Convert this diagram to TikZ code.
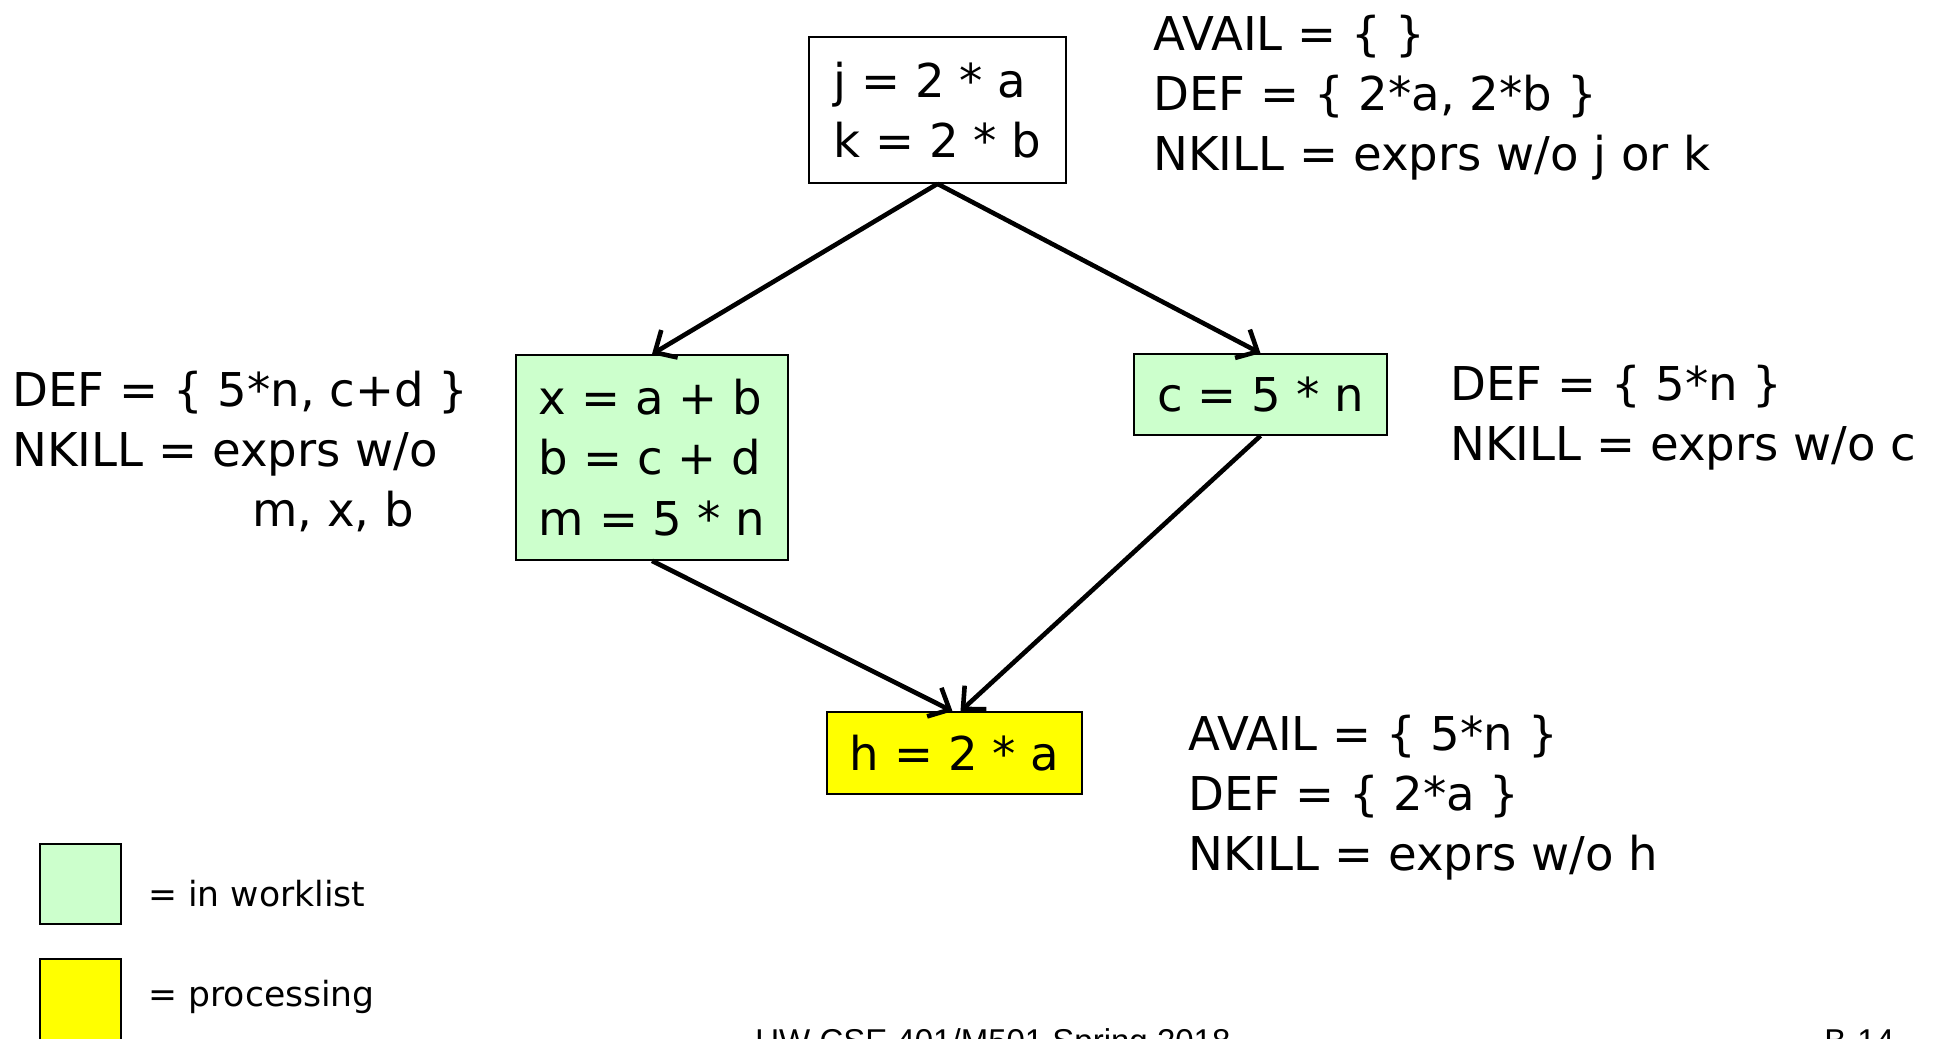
\documentclass[tikz,border=0pt]{standalone}
\usepackage{fontspec}
\setmainfont{DejaVu Sans}
\newfontfamily\footfont{Liberation Sans}
\usetikzlibrary{arrows.meta}
\definecolor{wlgreen}{HTML}{CCFFCC}
\definecolor{procyellow}{HTML}{FFFF00}
\begin{document}
\begin{tikzpicture}[x=0.5pt,y=-0.5pt,
  big/.style={font=\fontsize{23.3}{30.2}\selectfont},
  blockbox/.style={draw=black,line width=0.8pt,big,align=left,inner sep=0pt},
  info/.style={anchor=base west,inner sep=0pt,big},
  legendbox/.style={draw=black,line width=0.8pt,inner sep=0pt,minimum width=40.5pt},
  legendtext/.style={anchor=base west,inner sep=0pt,font=\fontsize{17.3}{21}\selectfont},
  foot/.style={anchor=base west,inner sep=0pt,font=\footfont\fontsize{16.5}{20}\selectfont},
  flow/.style={line width=2.3pt,-{Straight Barb[length=8.5pt,width=16pt,line width=2.3pt]}}]
\clip (0,0) rectangle (1940,1039);
\fill[white] (0,0) rectangle (1940,1039);
% blocks
\node[blockbox,fill=white,minimum width=128.5pt,minimum height=73pt] (b1) at (937.5,110) {j = 2 * a\\k = 2 * b};
\node[blockbox,fill=wlgreen,minimum width=136pt,minimum height=102.5pt] (b2) at (652,457.5) {x = a + b\\b = c + d\\m = 5 * n};
\node[blockbox,fill=wlgreen,minimum width=126.5pt,minimum height=40.5pt] (b3) at (1260.5,394.5) {c = 5 * n};
\node[blockbox,fill=procyellow,minimum width=127.5pt,minimum height=41pt] (b4) at (954.5,753) {h = 2 * a};
% edges
\draw[flow] (b1.south) -- (b2.north);
\draw[flow] (b1.south) -- (b3.north);
\draw[flow] (b2.south) -- ([xshift=-1pt]b4.north);
\draw[flow] (b3.south) -- ([xshift=3pt]b4.north);
% annotations
\node[info] (i1) at (1153,50) {\begin{tabular}[t]{@{}l@{}}AVAIL = \{ \}\\DEF = \{ 2*a, 2*b \}\\NKILL = exprs w/o j or k\end{tabular}};
\node[info] (i2) at (12,406) {\begin{tabular}[t]{@{}l@{}}DEF = \{ 5*n, c+d \}\\NKILL = exprs w/o\\\hspace*{120pt}m, x, b\end{tabular}};
\node[info] (i3) at (1450,400) {\begin{tabular}[t]{@{}l@{}}DEF = \{ 5*n \}\\NKILL = exprs w/o c\end{tabular}};
\node[info] (i4) at (1188,750) {\begin{tabular}[t]{@{}l@{}}AVAIL = \{ 5*n \}\\DEF = \{ 2*a \}\\NKILL = exprs w/o h\end{tabular}};
% legend
\node[legendbox,fill=wlgreen,minimum height=40pt] (lg) at (80.5,884) {};
\node[legendbox,fill=procyellow,minimum height=42pt] (ly) at (80.5,1001) {};
\node[legendtext] (lgt) at (148,906) {= in worklist};
\node[legendtext] (lyt) at (148,1006) {= processing};
% footer
\node[foot] (f1) at (755,1052) {UW CSE 401/M501 Spring 2018};
\node[foot] (f2) at (1824,1052) {B-14};
\end{tikzpicture}
\end{document}
